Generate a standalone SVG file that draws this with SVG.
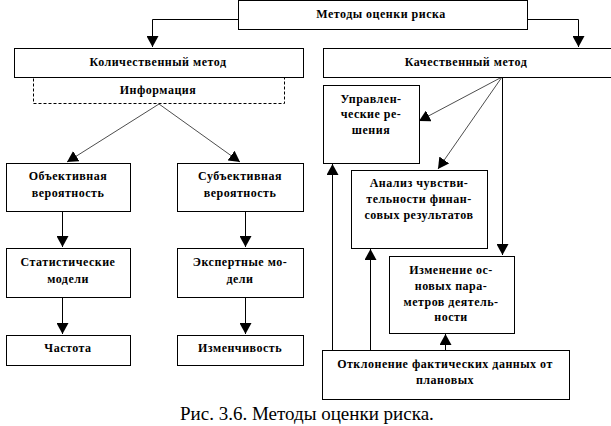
<svg xmlns="http://www.w3.org/2000/svg" width="611" height="426" viewBox="0 0 611 426">
<style>
.box{fill:#fff;stroke:#000;stroke-width:1}
.dash{fill:#fff;stroke:#000;stroke-width:1;stroke-dasharray:3,2}
.t{font-family:"Liberation Serif","Times New Roman",serif;font-weight:bold;font-size:12px;letter-spacing:0.5px;text-anchor:middle;fill:#000}
.cap{font-family:"Liberation Serif","Times New Roman",serif;font-size:19px;fill:#000}
.ln{fill:none;stroke:#000;stroke-width:1}
.thin{fill:none;stroke:#000;stroke-width:0.7}
</style>
<defs>
<marker id="ah" markerUnits="userSpaceOnUse" markerWidth="12" markerHeight="12" viewBox="0 0 12 12" refX="11" refY="6" orient="auto">
<path d="M0,0 L11,6 L0,12 Z" fill="#000"/>
</marker>
</defs>
<rect width="611" height="426" fill="#fff"/>

<g id="connectors">
<path class="ln" d="M238.5,19.5 H152.5 V47" marker-end="url(#ah)"/>
<path class="ln" d="M527.5,19.5 H578.5 V47" marker-end="url(#ah)"/>
<path class="thin" d="M159,104 L67,162" marker-end="url(#ah)"/>
<path class="thin" d="M159,104 L240,162" marker-end="url(#ah)"/>
<path class="ln" d="M62.5,211 V247" marker-end="url(#ah)"/>
<path class="ln" d="M245.5,211 V247" marker-end="url(#ah)"/>
<path class="ln" d="M62.5,297 V334" marker-end="url(#ah)"/>
<path class="ln" d="M245.5,297 V334" marker-end="url(#ah)"/>
<path class="thin" d="M502,77 L419,121" marker-end="url(#ah)"/>
<path class="thin" d="M502,77 L438,169" marker-end="url(#ah)"/>
<path class="ln" d="M502.5,77 V255" marker-end="url(#ah)"/>
<path class="ln" d="M332.5,350 V164" marker-end="url(#ah)"/>
<path class="ln" d="M370.5,350 V249" marker-end="url(#ah)"/>
<path class="ln" d="M445.5,350 V334" marker-end="url(#ah)"/>
</g>

<g id="root">
<rect class="box" x="238.5" y="0.5" width="289" height="29"/>
<text class="t" x="381" y="18">Методы оценки риска</text>
</g>

<g id="info">
<rect class="dash" x="33.5" y="77.5" width="251" height="26"/>
<text class="t" x="158" y="94">Информация</text>
</g>

<g id="quant">
<rect class="box" x="14.5" y="48.5" width="289" height="29"/>
<text class="t" x="158" y="66">Количественный метод</text>
</g>

<g id="qual">
<rect class="box" x="323.5" y="48.5" width="300" height="29"/>
<text class="t" x="466" y="66">Качественный метод</text>
</g>

<g id="objective">
<rect class="box" x="6.5" y="163.5" width="124" height="48"/>
<text class="t" x="68" y="180">Объективная</text>
<text class="t" x="68" y="197">вероятность</text>
</g>

<g id="subjective">
<rect class="box" x="177.5" y="163.5" width="126" height="48"/>
<text class="t" x="240" y="180">Субъективная</text>
<text class="t" x="240" y="197">вероятность</text>
</g>

<g id="stat">
<rect class="box" x="6.5" y="248.5" width="124" height="49"/>
<text class="t" x="68" y="266">Статистические</text>
<text class="t" x="68" y="283">модели</text>
</g>

<g id="expert">
<rect class="box" x="177.5" y="248.5" width="126" height="49"/>
<text class="t" x="240" y="266">Экспертные мо-</text>
<text class="t" x="240" y="283">дели</text>
</g>

<g id="freq">
<rect class="box" x="6.5" y="335.5" width="124" height="30"/>
<text class="t" x="68" y="352">Частота</text>
</g>

<g id="variab">
<rect class="box" x="177.5" y="335.5" width="126" height="30"/>
<text class="t" x="240" y="352">Изменчивость</text>
</g>

<g id="mgmt">
<rect class="box" x="323.5" y="85.5" width="96" height="78"/>
<text class="t" x="371" y="103">Управлен-</text>
<text class="t" x="371" y="118">ческие ре-</text>
<text class="t" x="371" y="134">шения</text>
</g>

<g id="sens">
<rect class="box" x="351.5" y="170.5" width="136" height="78"/>
<text class="t" x="419" y="187">Анализ чувстви-</text>
<text class="t" x="419" y="203">тельности финан-</text>
<text class="t" x="419" y="219">совых результатов</text>
</g>

<g id="change">
<rect class="box" x="389.5" y="256.5" width="125" height="77"/>
<text class="t" x="451" y="274">Изменение ос-</text>
<text class="t" x="451" y="290">новых пара-</text>
<text class="t" x="451" y="306">метров деятель-</text>
<text class="t" x="451" y="321">ности</text>
</g>

<g id="deviation">
<rect class="box" x="322.5" y="350.5" width="247" height="49"/>
<text class="t" x="445" y="368">Отклонение фактических данных от</text>
<text class="t" x="445" y="384">плановых</text>
</g>

<text class="cap" x="180" y="420">Рис. 3.6. Методы оценки риска.</text>
</svg>
